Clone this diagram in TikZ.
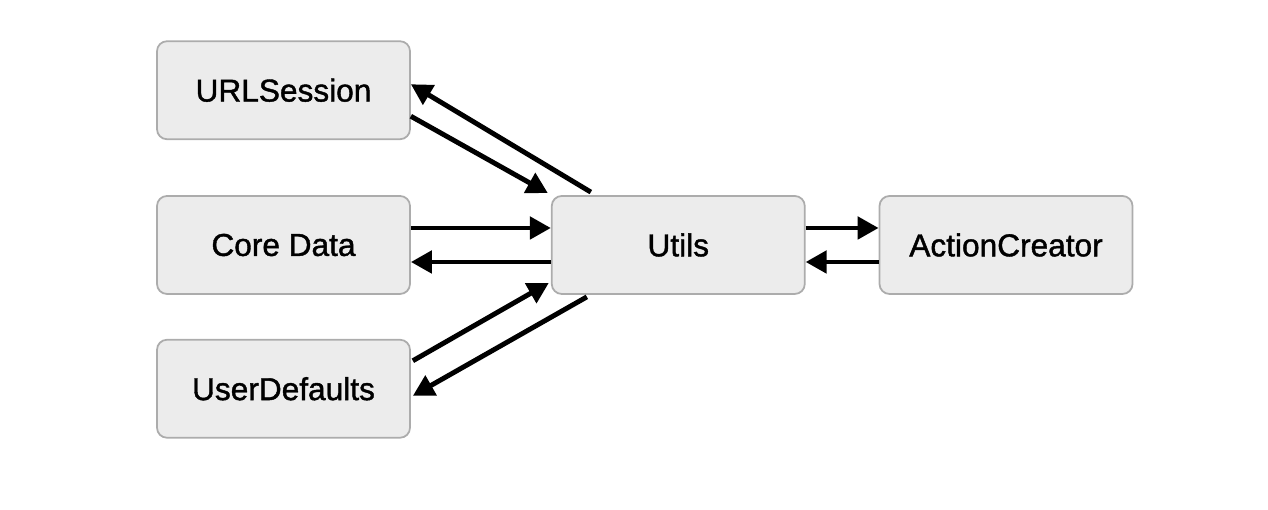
\documentclass[tikz,border=0pt]{standalone}
\usepackage{fontspec}
\setmainfont{Liberation Sans}
\newfontfamily\modulefont{Liberation Sans}[FakeBold=1.3]
\usepackage{tikz}
\usetikzlibrary{positioning,arrows.meta,calc}
\definecolor{boxrule}{RGB}{172,172,172}
\definecolor{boxfill}{RGB}{236,236,236}
\tikzset{
  module/.style={rectangle,rounded corners=0.2cm,draw=boxrule,line width=1pt,align=center,minimum width=5.06cm,minimum height=1.96cm,fill=boxfill,font=\modulefont\fontsize{18}{22}\selectfont},
  flowarrow/.style={-{Triangle[length=4.2mm,width=4.4mm]},line width=2.8pt}
}
\begin{document}
\begin{tikzpicture}
  \useasboundingbox (0,0) rectangle (25.36,10.2);
  \node[module] (core) at (5.67,5.3) {Core Data};
  \node[module,above=1.1cm of core] (url) {URLSession};
  \node[module,below=0.88cm of core] (ud) {UserDefaults};
  \node[module,right=2.8cm of core] (utils) {Utils};
  \node[module,right=1.46cm of utils] (ac) {ActionCreator};
  % URLSession <-> Utils
  \draw[flowarrow] ([yshift=-0.52cm]url.east) -- ([xshift=-0.06cm,yshift=0.04cm]utils.north west);
  \draw[flowarrow] ([xshift=0.8cm,yshift=0.06cm]utils.north west) -- ([yshift=0.12cm]url.east);
  % Core Data <-> Utils
  \draw[flowarrow] ([yshift=0.34cm]core.east) -- ([yshift=0.34cm]utils.west);
  \draw[flowarrow] ([yshift=-0.34cm]utils.west) -- ([yshift=-0.34cm]core.east);
  % UserDefaults <-> Utils
  \draw[flowarrow] ([xshift=0.04cm,yshift=0.56cm]ud.east) -- ([xshift=-0.04cm,yshift=0.24cm]utils.south west);
  \draw[flowarrow] ([xshift=0.72cm,yshift=-0.04cm]utils.south west) -- ([xshift=0.04cm,yshift=-0.14cm]ud.east);
  % Utils <-> ActionCreator
  \draw[flowarrow] ([yshift=0.34cm]utils.east) -- ([yshift=0.34cm]ac.west);
  \draw[flowarrow] ([yshift=-0.34cm]ac.west) -- ([yshift=-0.34cm]utils.east);
\end{tikzpicture}
\end{document}
